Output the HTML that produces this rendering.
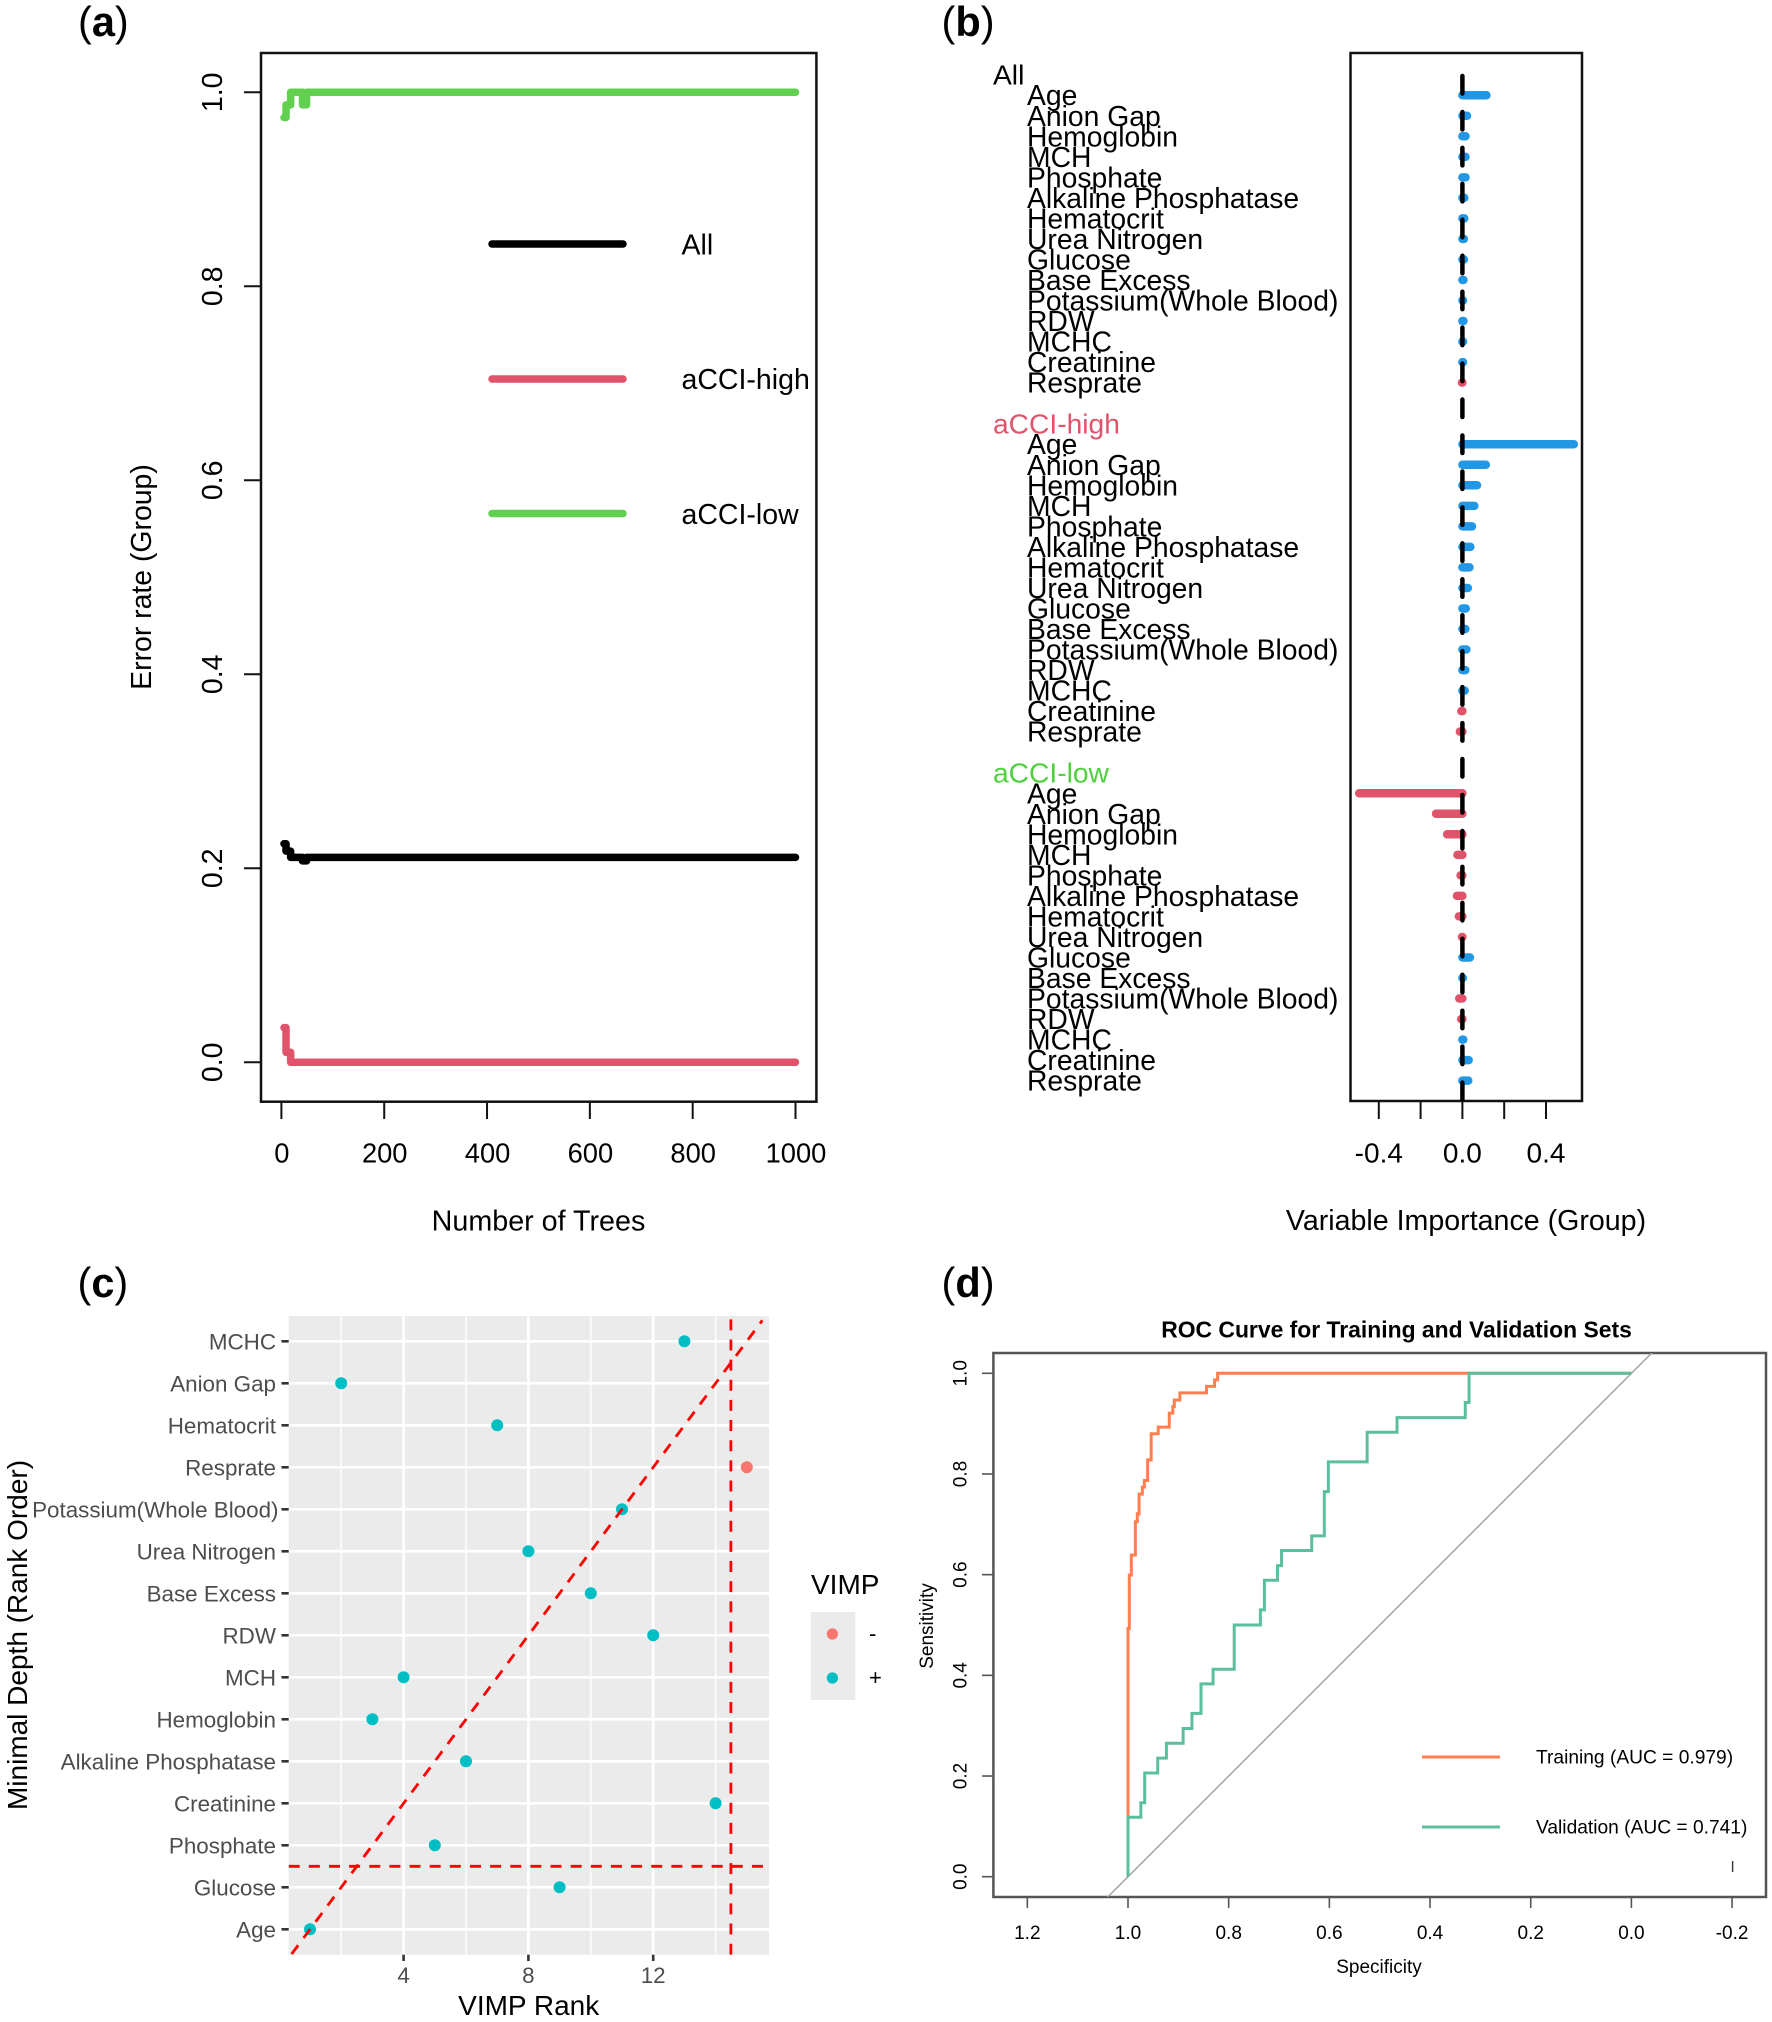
<!DOCTYPE html>
<html lang="en">
<head>
<meta charset="utf-8">
<title>Random forest variable importance panels</title>
<style>
html,body{margin:0;padding:0;background:#fff;}
svg{display:block;font-family:"Liberation Sans",Arial,sans-serif;}
text{fill:#000;}
</style>
</head>
<body>
<svg id="fig" xmlns="http://www.w3.org/2000/svg" width="1772" height="2022" viewBox="0 0 1772 2022">
<defs>
<clipPath id="clipC"><rect x="288.7" y="1316" width="480.3" height="638.7"/></clipPath>
<clipPath id="clipD"><rect x="993.4" y="1353" width="772.6" height="544"/></clipPath>
<clipPath id="clipB"><rect x="1350.5" y="53" width="231.5" height="1048"/></clipPath>
</defs>
<rect width="1772" height="2022" fill="#fff"/>

<text x="78" y="36" font-size="41.5">(<tspan font-weight="bold">a</tspan>)</text>
<text x="941.5" y="36" font-size="41.5">(<tspan font-weight="bold">b</tspan>)</text>
<text x="77.5" y="1297" font-size="41.5">(<tspan font-weight="bold">c</tspan>)</text>
<text x="941.5" y="1297" font-size="41.5">(<tspan font-weight="bold">d</tspan>)</text>

<g id="panelA">
<rect x="261" y="53" width="555.4" height="1048.7" fill="none" stroke="#111" stroke-width="2.5"/>
<text x="538.5" y="1230.5" font-size="28.7" text-anchor="middle">Number of Trees</text>
<text x="151" y="577" font-size="28.4" text-anchor="middle" transform="rotate(-90 151 577)">Error rate (Group)</text>
<line x1="492" x2="623" y1="244" y2="244" stroke="#000" stroke-width="7.5" stroke-linecap="round"/>
<line x1="492" x2="623" y1="379" y2="379" stroke="#DF536B" stroke-width="7.5" stroke-linecap="round"/>
<line x1="492" x2="623" y1="513.5" y2="513.5" stroke="#61D04F" stroke-width="7.5" stroke-linecap="round"/>
<text x="681.5" y="254.5" font-size="28.5">All</text>
<text x="681.5" y="389" font-size="28.5">aCCI-high</text>
<text x="681.5" y="524" font-size="28.5">aCCI-low</text>
</g>

<g id="panelB">
<rect x="1350.5" y="53" width="231.5" height="1048" fill="none" stroke="#111" stroke-width="2.5"/>
<text x="1466" y="1230" font-size="28.6" text-anchor="middle">Variable Importance (Group)</text>
</g>

<g id="panelC">
<rect x="288.7" y="1316" width="480.3" height="638.7" fill="#EBEBEB"/>
<text x="528.7" y="2015" font-size="28" text-anchor="middle">VIMP Rank</text>
<text x="27" y="1635" font-size="28" text-anchor="middle" transform="rotate(-90 27 1635)">Minimal Depth (Rank Order)</text>
<text x="811" y="1594" font-size="28">VIMP</text>
<rect x="810.6" y="1612" width="44.8" height="88" fill="#EBEBEB"/>
<circle cx="832.4" cy="1634" r="5.6" fill="#F8766D"/>
<circle cx="832.4" cy="1678" r="5.6" fill="#00BFC4"/>
<text x="869" y="1641" font-size="22">-</text>
<text x="869" y="1685" font-size="22">+</text>
</g>

<g id="panelD">
<text x="1396.5" y="1337.5" font-size="22.9" font-weight="bold" text-anchor="middle">ROC Curve for Training and Validation Sets</text>
<text x="1379" y="1973" font-size="19" text-anchor="middle">Specificity</text>
<text x="933" y="1626" font-size="19" text-anchor="middle" transform="rotate(-90 933 1626)">Sensitivity</text>
<rect x="993.4" y="1353" width="772.6" height="544" fill="none" stroke="#555" stroke-width="2.5"/>
<line x1="1422" x2="1500" y1="1757" y2="1757" stroke="#FF7F50" stroke-width="3"/>
<line x1="1422" x2="1500" y1="1827" y2="1827" stroke="#5CBF9B" stroke-width="3"/>
<text x="1536" y="1763.6" font-size="19.2">Training (AUC = 0.979)</text>
<text x="1536" y="1833.6" font-size="19.2">Validation (AUC = 0.741)</text>
<line x1="1732.6" x2="1732.6" y1="1861" y2="1872" stroke="#333" stroke-width="1.4"/>
</g>
</svg>

<script>
// ---------- Panel (a) data ----------
const errorTreeSteps = [5, 9, 18, 41, 49, 1000];
const errorAll  = [0.2253, 0.2177, 0.2113, 0.2077, 0.2113, 0.2113];
const errorHigh = [0.0357, 0.0103, 0, 0, 0, 0];
const errorLow  = [0.974, 0.987, 1, 0.987, 1, 1];
const errorXTicks = ['0', '200', '400', '600', '800', '1000'];
const errorYTicks = ['0.0', '0.2', '0.4', '0.6', '0.8', '1.0'];

// ---------- Panel (b) data ----------
const importanceVariables = ['Age', 'Anion Gap', 'Hemoglobin', 'MCH', 'Phosphate', 'Alkaline Phosphatase', 'Hematocrit', 'Urea Nitrogen', 'Glucose', 'Base Excess', 'Potassium(Whole Blood)', 'RDW', 'MCHC', 'Creatinine', 'Resprate'];
const importanceAll  = [0.115, 0.022, 0.015, 0.015, 0.015, 0.009, 0.009, 0.007, 0.007, 0.005, 0.003, 0.005, 0.003, 0.003, -0.002];
const importanceHigh = [0.533, 0.112, 0.070, 0.057, 0.046, 0.038, 0.034, 0.026, 0.016, 0.014, 0.019, 0.014, 0.011, -0.005, -0.012];
const importanceLow  = [-0.494, -0.126, -0.073, -0.024, -0.009, -0.026, -0.017, -0.002, 0.036, 0.002, -0.015, -0.006, 0.004, 0.030, 0.028];
const importanceXTicks = [-0.4, -0.2, 0, 0.2, 0.4];
const importanceXLabels = ['-0.4', '', '0.0', '', '0.4'];

// ---------- Panel (c) data ----------
const depthVariables = ['Age', 'Glucose', 'Phosphate', 'Creatinine', 'Alkaline Phosphatase', 'Hemoglobin', 'MCH', 'RDW', 'Base Excess', 'Urea Nitrogen', 'Potassium(Whole Blood)', 'Resprate', 'Hematocrit', 'Anion Gap', 'MCHC'];
const vimpRank = [1, 9, 5, 14, 6, 3, 4, 12, 10, 8, 11, 15, 7, 2, 13];
const vimpSign = ['+', '+', '+', '+', '+', '+', '+', '+', '+', '+', '+', '-', '+', '+', '+'];
const depthXMajor = ['4', '8', '12'];
const depthXMinor = [2, 6, 10, 14];
const vimpCutoff = 14.49;
const depthCutoff = 2.5;
const diagonalRange = [0.41, 15.5];

// ---------- Panel (d) data ----------
const trainingSpec = [1, 1, 0.9974, 0.9974, 0.9934, 0.9934, 0.9854, 0.9854, 0.9815, 0.9815, 0.978, 0.978, 0.9715, 0.9715, 0.9675, 0.9675, 0.961, 0.961, 0.954, 0.954, 0.94, 0.94, 0.918, 0.918, 0.911, 0.911, 0.908, 0.908, 0.897, 0.897, 0.844, 0.844, 0.828, 0.828, 0.822, 0.822, 0];
const trainingSens = [0, 0.493, 0.493, 0.599, 0.599, 0.639, 0.639, 0.705, 0.705, 0.721, 0.721, 0.76, 0.76, 0.774, 0.774, 0.787, 0.787, 0.828, 0.828, 0.88, 0.88, 0.893, 0.893, 0.921, 0.921, 0.934, 0.934, 0.947, 0.947, 0.961, 0.961, 0.974, 0.974, 0.987, 0.987, 1, 1];
const validationSpec = [1, 1, 0.9745, 0.9745, 0.9668, 0.9668, 0.941, 0.941, 0.9237, 0.9237, 0.8905, 0.8905, 0.873, 0.873, 0.855, 0.855, 0.831, 0.831, 0.789, 0.789, 0.737, 0.737, 0.729, 0.729, 0.703, 0.703, 0.695, 0.695, 0.635, 0.635, 0.61, 0.61, 0.602, 0.602, 0.525, 0.525, 0.4656, 0.4656, 0.33, 0.33, 0.3225, 0.3225, 0];
const validationSens = [0, 0.118, 0.118, 0.147, 0.147, 0.206, 0.206, 0.2355, 0.2355, 0.265, 0.265, 0.2945, 0.2945, 0.3245, 0.3245, 0.383, 0.383, 0.412, 0.412, 0.5, 0.5, 0.53, 0.53, 0.589, 0.589, 0.618, 0.618, 0.648, 0.648, 0.677, 0.677, 0.765, 0.765, 0.824, 0.824, 0.883, 0.883, 0.912, 0.912, 0.942, 0.942, 1, 1];
const diagonalSpec = [1.08, -0.08];
const rocXTicks = ['1.2', '1.0', '0.8', '0.6', '0.4', '0.2', '0.0', '-0.2'];
const rocYTicks = ['0.0', '0.2', '0.4', '0.6', '0.8', '1.0'];

// ---------- Axis functions ----------
const xError = t => 281.4 + 0.5141 * t;
const yError = e => 1062.3 - 970 * e;
const xImportance = v => 1462.4 + 209 * v;
const yImportanceRow = i => 74.7 + 20.53 * i;
const xRank = r => 403.6 + 31.2 * (r - 4);
const yRank = r => 1929.3 - 42 * (r - 1);
const xSpec = s => 1631.4 - 503.4 * s;
const ySens = v => 1876.7 - 503.4 * v;

const NS = 'http://www.w3.org/2000/svg';
function add(parent, tag, attrs, text) {
  const el = document.createElementNS(NS, tag);
  for (const k in attrs) el.setAttribute(k, attrs[k]);
  if (text !== undefined) el.textContent = text;
  parent.appendChild(el);
  return el;
}
const A = document.getElementById('panelA');
const B = document.getElementById('panelB');
const C = document.getElementById('panelC');
const D = document.getElementById('panelD');

// ---------- Panel (a) ----------
errorXTicks.forEach(lbl => {
  const x = xError(+lbl);
  const tick = add(A, 'line', {x1: x, x2: x, y1: 1101.7, y2: 1119, stroke: '#111', 'stroke-width': 2});
  
  
  const t = add(A, 'text', {x: x + 0.5, y: 1162.3, 'font-size': 27.3, 'text-anchor': 'middle'}, lbl);
  
  
});
errorYTicks.forEach(lbl => {
  const y = yError(+lbl);
  const tick = add(A, 'line', {x1: 244, x2: 261, y1: y, y2: y, stroke: '#111', 'stroke-width': 2});
  
  
  const t = add(A, 'text', {x: 222, y: y, 'font-size': 28.5, 'text-anchor': 'middle', transform: 'rotate(-90 222 ' + y + ')'}, lbl);
  
  
});
function stepPath(xs, ys) {
  let d = 'M' + xError(xs[0]) + ' ' + yError(ys[0]);
  for (let i = 1; i < xs.length; i++) {
    d += 'L' + xError(xs[i]) + ' ' + yError(ys[i - 1]) + 'L' + xError(xs[i]) + ' ' + yError(ys[i]);
  }
  return d;
}
const errAllLine = add(A, 'path', {d: stepPath(errorTreeSteps, errorAll), fill: 'none', stroke: '#000', 'stroke-width': 7.5, 'stroke-linecap': 'round', 'stroke-linejoin': 'round'});


const errHighLine = add(A, 'path', {d: stepPath(errorTreeSteps, errorHigh), fill: 'none', stroke: '#DF536B', 'stroke-width': 7.5, 'stroke-linecap': 'round', 'stroke-linejoin': 'round'});


const errLowLine = add(A, 'path', {d: stepPath(errorTreeSteps, errorLow), fill: 'none', stroke: '#61D04F', 'stroke-width': 7.5, 'stroke-linecap': 'round', 'stroke-linejoin': 'round'});



// ---------- Panel (b) ----------
importanceXTicks.forEach((v, i) => {
  const x = xImportance(v);
  const tick = add(B, 'line', {x1: x, x2: x, y1: 1101, y2: 1119, stroke: '#111', 'stroke-width': 2});
  
  
  if (importanceXLabels[i]) {
    const t = add(B, 'text', {x: x, y: 1162.3, 'font-size': 28, 'text-anchor': 'middle'}, importanceXLabels[i]);
    
    
  }
});
const importanceGroups = [
  {name: 'All', color: '#000', values: importanceAll, row: 0},
  {name: 'aCCI-high', color: '#DF536B', values: importanceHigh, row: 17},
  {name: 'aCCI-low', color: '#4FD03F', values: importanceLow, row: 34}
];
importanceGroups.forEach(g => {
  const header = add(B, 'text', {x: 993, y: yImportanceRow(g.row) + 10, 'font-size': 28.2, style: 'fill:' + g.color}, g.name);
  
  
  importanceVariables.forEach((name, i) => {
    const y = yImportanceRow(g.row + 1 + i);
    const label = add(B, 'text', {x: 1027, y: y + 10, 'font-size': 28.3}, name);
    
    
    const v = g.values[i];
    const bar = add(B, 'line', {x1: xImportance(0), x2: xImportance(v), y1: y, y2: y, stroke: v < 0 ? '#DF536B' : '#2297E6', 'stroke-width': 8.5, 'stroke-linecap': 'round'});
    
    
  });
});
const zeroLine = add(B, 'line', {x1: xImportance(0), x2: xImportance(0), y1: 76, y2: 1101, stroke: '#000', 'stroke-width': 4.5, 'stroke-linecap': 'round', 'stroke-dasharray': '17.5 18.45', 'clip-path': 'url(#clipB)'});



// ---------- Panel (c) ----------
depthXMinor.forEach(r => {
  const g = add(C, 'line', {x1: xRank(r), x2: xRank(r), y1: 1316, y2: 1954.7, stroke: '#fff', 'stroke-width': 1.4});
  
  
});
depthXMajor.forEach(lbl => {
  const x = xRank(+lbl);
  const g = add(C, 'line', {x1: x, x2: x, y1: 1316, y2: 1954.7, stroke: '#fff', 'stroke-width': 2.6});
  
  
  const tick = add(C, 'line', {x1: x, x2: x, y1: 1954.7, y2: 1961, stroke: '#333', 'stroke-width': 2.6});
  
  
  const t = add(C, 'text', {x: x, y: 1983, 'font-size': 22.4, 'text-anchor': 'middle', style: 'fill:#4D4D4D'}, lbl);
  
  
});
depthVariables.forEach((name, i) => {
  const y = yRank(i + 1);
  const g = add(C, 'line', {x1: 288.7, x2: 769, y1: y, y2: y, stroke: '#fff', 'stroke-width': 2.6});
  
  
  const tick = add(C, 'line', {x1: 281.5, x2: 288.7, y1: y, y2: y, stroke: '#333', 'stroke-width': 2.6});
  
  
  const t = add(C, 'text', {x: name.includes('(') ? 278.5 : 276, y: y + 8, 'font-size': 22.4, 'text-anchor': 'end', style: 'fill:#4D4D4D'}, name);
  
  
});
depthVariables.forEach((name, i) => {
  const dot = add(C, 'circle', {cx: xRank(vimpRank[i]), cy: yRank(i + 1), r: 6, fill: vimpSign[i] === '-' ? '#F8766D' : '#00BFC4'});
  
  
});
const refDiagonal = add(C, 'line', {x1: xRank(diagonalRange[0]), y1: yRank(diagonalRange[0]), x2: xRank(diagonalRange[1]), y2: yRank(diagonalRange[1]), stroke: '#FF0000', 'stroke-width': 2.8, 'stroke-dasharray': '11 9.14', 'clip-path': 'url(#clipC)'});


const refVertical = add(C, 'line', {x1: xRank(vimpCutoff), x2: xRank(vimpCutoff), y1: 1954.7, y2: 1316, stroke: '#FF0000', 'stroke-width': 2.8, 'stroke-dasharray': '11 9.14', 'clip-path': 'url(#clipC)'});


const refHorizontal = add(C, 'line', {x1: 288.7, x2: 769, y1: yRank(depthCutoff), y2: yRank(depthCutoff), stroke: '#FF0000', 'stroke-width': 2.8, 'stroke-dasharray': '11 9.14', 'clip-path': 'url(#clipC)'});



// ---------- Panel (d) ----------
rocXTicks.forEach(lbl => {
  const x = xSpec(+lbl);
  const tick = add(D, 'line', {x1: x, x2: x, y1: 1897, y2: 1908, stroke: '#555', 'stroke-width': 1.6});
  
  
  const t = add(D, 'text', {x: x, y: 1939, 'font-size': 19, 'text-anchor': 'middle'}, lbl);
  
  
});
rocYTicks.forEach(lbl => {
  const y = ySens(+lbl);
  const tick = add(D, 'line', {x1: 982, x2: 993.4, y1: y, y2: y, stroke: '#555', 'stroke-width': 1.6});
  
  
  const t = add(D, 'text', {x: 966.7, y: y, 'font-size': 19, 'text-anchor': 'middle', transform: 'rotate(-90 966.7 ' + y + ')'}, lbl);
  
  
});
function rocPath(sp, se) {
  return sp.map((s, i) => (i ? 'L' : 'M') + xSpec(s) + ' ' + ySens(se[i])).join('');
}
const diag = add(D, 'line', {x1: xSpec(diagonalSpec[0]), y1: ySens(1 - diagonalSpec[0]), x2: xSpec(diagonalSpec[1]), y2: ySens(1 - diagonalSpec[1]), stroke: '#A0A0A0', 'stroke-width': 1.4, 'clip-path': 'url(#clipD)'});


const trainingCurve = add(D, 'path', {d: rocPath(trainingSpec, trainingSens), fill: 'none', stroke: '#FF7F50', 'stroke-width': 3});


const validationCurve = add(D, 'path', {d: rocPath(validationSpec, validationSens), fill: 'none', stroke: '#5CBF9B', 'stroke-width': 3});


</script>
</body>
</html>
